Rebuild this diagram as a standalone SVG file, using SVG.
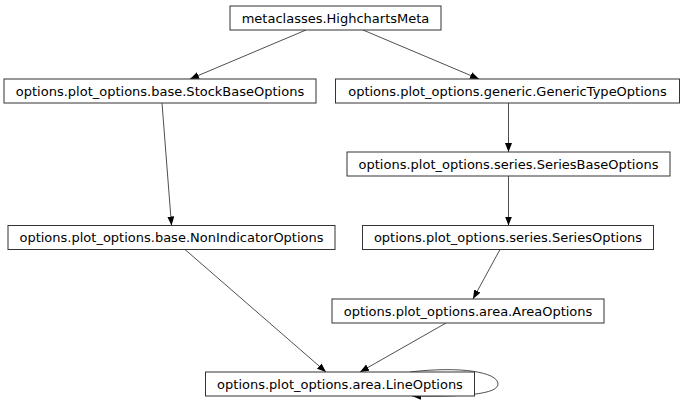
<svg xmlns="http://www.w3.org/2000/svg" width="685" height="404" viewBox="0 0 685 404">
<defs>
<marker id="arr" markerUnits="userSpaceOnUse" markerWidth="10" markerHeight="8" refX="9" refY="3.5" orient="auto">
<path d="M0,0 L9,3.5 L0,7 z" fill="#000"/>
</marker>
<style>
.n rect{fill:#fff;stroke:#333;stroke-width:1}
.n text{font-family:"DejaVu Sans",sans-serif;font-size:13px;fill:#000;text-anchor:middle}
.e path{fill:none;stroke:#222;stroke-width:0.8;marker-end:url(#arr)}
</style>
</defs>
<rect width="685" height="404" fill="#fff"/>
<g class="e" id="edges">
<path d="M306,30 L190,79"/>
<path d="M363,30 L479,79"/>
<path d="M162,103 L171.5,225.5"/>
<path d="M508.5,103 L508.5,152"/>
<path d="M508.5,176 L508.5,225.5"/>
<path d="M185,249.5 L326,372"/>
<path d="M500,249.5 L473,299"/>
<path d="M446,323 L360,372"/>
<path d="M410,372 C460,366 498,372 498,384 C498,394 465,397 412,396"/>
</g>
<g class="n" id="meta"><rect x="230" y="6" width="211" height="24"/><text x="335.5" y="22.5">metaclasses.HighchartsMeta</text></g>
<g class="n" id="stock"><rect x="4" y="79" width="312" height="24"/><text x="160" y="95.5">options.plot_options.base.StockBaseOptions</text></g>
<g class="n" id="generic"><rect x="335.5" y="79" width="344" height="24"/><text x="507.5" y="95.5">options.plot_options.generic.GenericTypeOptions</text></g>
<g class="n" id="seriesbase"><rect x="347" y="152" width="323" height="24"/><text x="508.5" y="168.5">options.plot_options.series.SeriesBaseOptions</text></g>
<g class="n" id="nonind"><rect x="8" y="225.5" width="327" height="24"/><text x="171.5" y="242">options.plot_options.base.NonIndicatorOptions</text></g>
<g class="n" id="seriesopt"><rect x="362.5" y="225.5" width="291" height="24"/><text x="508" y="242">options.plot_options.series.SeriesOptions</text></g>
<g class="n" id="area"><rect x="332" y="299" width="272" height="24"/><text x="468" y="315.5">options.plot_options.area.AreaOptions</text></g>
<g class="n" id="line"><rect x="205.5" y="372" width="269" height="24"/><text x="340" y="388.5">options.plot_options.area.LineOptions</text></g>
</svg>
